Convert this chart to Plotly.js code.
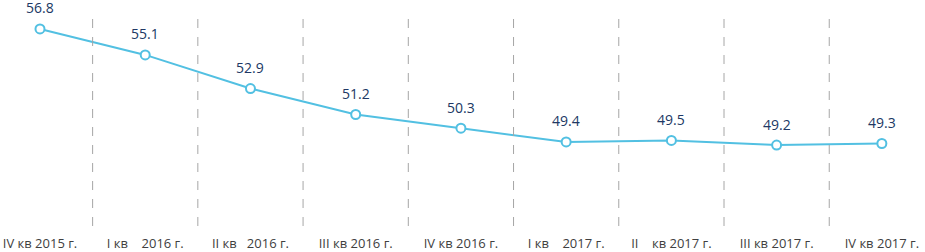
<!DOCTYPE html>
<html>
<head>
<meta charset="utf-8">
<script src="https://cdn.plot.ly/plotly-3.0.1.min.js"></script>
<style>html,body{margin:0;padding:0;background:#fff;}#chart{width:925px;height:252px;}</style>
</head>
<body>
<div id="chart"></div>
<script>
var categories = [
  "IV кв 2015 г.",
  "I кв\u00a0\u00a0\u00a0\u00a02016 г.",
  "II кв\u00a0\u00a0\u00a02016 г.",
  "III кв 2016 г.",
  "IV кв 2016 г.",
  "I кв\u00a0\u00a0\u00a0\u00a02017 г.",
  "II\u00a0\u00a0\u00a0\u00a0кв 2017 г.",
  "III кв 2017 г.",
  "IV кв 2017 г."
];
var values = [56.8, 55.1, 52.9, 51.2, 50.3, 49.4, 49.5, 49.2, 49.3];

var idx = categories.map(function(_, i){ return i; });

var trace = {
  x: idx,
  y: values,
  type: 'scatter',
  mode: 'lines+markers',
  line: {color: '#52C0E2', width: 2},
  marker: {symbol: 'circle', size: 9, color: '#ffffff', line: {color: '#52C0E2', width: 2}},
  hoverinfo: 'skip'
};

var annotations = values.map(function(v, i){
  return {
    x: i, y: v, xref: 'x', yref: 'y',
    text: v.toFixed(1), showarrow: false,
    yshift: 21,
    font: {family: 'Open Sans, Liberation Sans, sans-serif', size: 14, color: '#203864'}
  };
});

var shapes = [];
for (var i = 0; i < categories.length - 1; i++) {
  shapes.push({
    type: 'line', xref: 'x', yref: 'paper',
    x0: i + 0.5, x1: i + 0.5, y0: 0, y1: 1,
    line: {color: '#A6A6A6', width: 1, dash: 'dash'}
  });
}

var layout = {
  width: 925, height: 252,
  margin: {l: 0, r: 0, t: 10, b: 26},
  paper_bgcolor: '#ffffff',
  plot_bgcolor: '#ffffff',
  showlegend: false,
  xaxis: {
    range: [-0.38, 8.41],
    tickmode: 'array',
    tickvals: idx,
    ticktext: categories,
    showgrid: false, zeroline: false, showline: false,
    ticks: 'outside', ticklen: 5, tickcolor: 'rgba(0,0,0,0)',
    tickfont: {family: 'Open Sans, Liberation Sans, sans-serif', size: 13, color: '#404040'},
    fixedrange: true
  },
  yaxis: {
    range: [43.9, 58.04],
    showgrid: false, zeroline: false, showline: false,
    showticklabels: false, ticks: '',
    fixedrange: true
  },
  shapes: shapes,
  annotations: annotations
};

Plotly.newPlot('chart', [trace], layout, {displayModeBar: false, staticPlot: true});
</script>
</body>
</html>
